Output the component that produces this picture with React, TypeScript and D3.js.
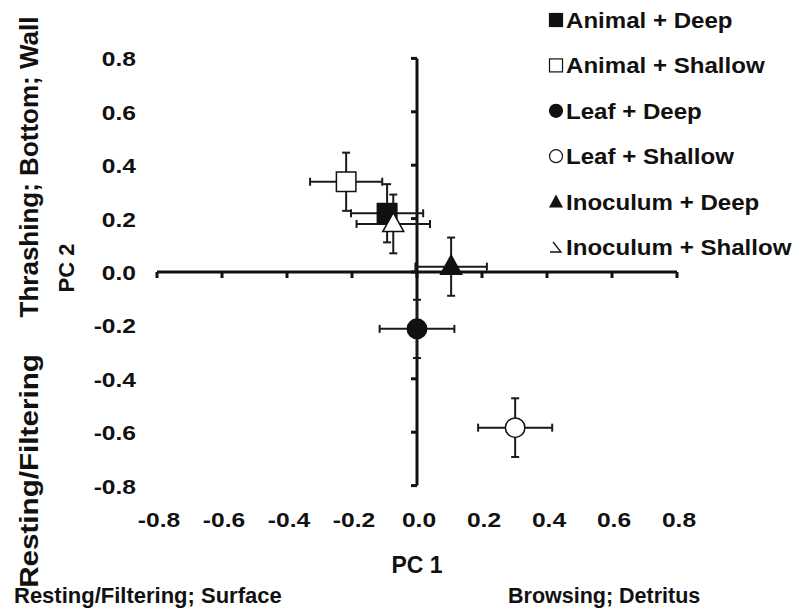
import React, { useEffect, useRef } from "react";
import * as d3 from "d3";

const groups = ["Animal + Deep", "Animal + Shallow", "Leaf + Deep", "Leaf + Shallow", "Inoculum + Deep", "Inoculum + Shallow"];
const shapes = ["square", "square", "circle", "circle", "triangle", "triangle"];
const filled = [true, false, true, false, true, false];
const pc1 = [-0.092, -0.218, 0.0, 0.302, 0.105, -0.073];
const pc2 = [0.22, 0.338, -0.213, -0.583, 0.02, 0.18];
const pc1Err = [0.111, 0.111, 0.115, 0.114, 0.11, 0.113];
const pc2Err = [0.109, 0.109, 0.109, 0.11, 0.109, 0.11];
const ticks = [-0.8, -0.6, -0.4, -0.2, 0.0, 0.2, 0.4, 0.6, 0.8];

const FONT = "'Liberation Sans', Arial, Helvetica, sans-serif";
const INK = "#111";

export default function App() {
  const ref = useRef<SVGSVGElement>(null);
  useEffect(() => {
    const svg = d3.select(ref.current);
    svg.selectAll("*").remove();
    const x = d3.scaleLinear().domain([-0.8, 0.8]).range([157, 677]);
    const y = d3.scaleLinear().domain([-0.8, 0.8]).range([485.6, 58.4]);
    const x0 = x(0), y0 = y(0);

    // axes
    const ax = svg.append("g").attr("stroke", INK).attr("stroke-width", 3).attr("fill", "none");
    ax.append("line").attr("x1", x(-0.8)).attr("x2", x(0.8)).attr("y1", y0).attr("y2", y0);
    ax.append("line").attr("x1", x0).attr("x2", x0).attr("y1", y(0.8)).attr("y2", y(-0.8));
    ticks.forEach((t) => {
      ax.append("line").attr("x1", x(t)).attr("x2", x(t)).attr("y1", y0).attr("y2", y0 + 6);
      ax.append("line").attr("x1", x0).attr("x2", x0 - 6).attr("y1", y(t)).attr("y2", y(t));
    });

    const fmt = d3.format(".1f");
    const lab = (s: string) => s.replace("−", "-");
    ticks.forEach((t) => {
      svg.append("text")
        .attr("transform", `translate(136,${y(t) + 8}) scale(1.2,1)`)
        .attr("text-anchor", "end")
        .attr("font-family", FONT).attr("font-weight", "bold").attr("font-size", 20.5)
        .attr("fill", INK).text(lab(fmt(t)));
      svg.append("text")
        .attr("transform", `translate(${x(t) + 2},${y(-0.8) + 41}) scale(1.2,1)`)
        .attr("text-anchor", "middle")
        .attr("font-family", FONT).attr("font-weight", "bold").attr("font-size", 20.5)
        .attr("fill", INK).text(lab(fmt(t)));
    });

    const txt = (tx: number, ty: number, s: string, size: number, anchor: string, rot = 0, sx = 1) =>
      svg.append("text")
        .attr("transform", `translate(${tx},${ty}) rotate(${rot}) scale(${sx},1)`)
        .attr("text-anchor", anchor)
        .attr("font-family", FONT).attr("font-weight", "bold").attr("font-size", size)
        .attr("fill", INK).text(s);

    txt(417, 573, "PC 1", 23, "middle");
    txt(74, 268, "PC 2", 22, "middle", -90);
    txt(38, 167, "Thrashing; Bottom; Wall", 26, "middle", -90);
    txt(38, 471, "Resting/Filtering", 26, "middle", -90, 1.14);
    txt(14, 603, "Resting/Filtering; Surface", 22, "start");
    txt(508, 603, "Browsing; Detritus", 21.5, "start", 0, 1.0);

    // error bars
    const eb = svg.append("g").attr("stroke", "#1a1a1a").attr("stroke-width", 2).attr("fill", "none");
    groups.forEach((_, i) => {
      const cx = x(pc1[i]), cy = y(pc2[i]);
      const xl = x(pc1[i] - pc1Err[i]), xr = x(pc1[i] + pc1Err[i]);
      const yt = y(pc2[i] + pc2Err[i]), yb = y(pc2[i] - pc2Err[i]);
      const c = 4;
      eb.append("line").attr("x1", xl).attr("x2", xr).attr("y1", cy).attr("y2", cy);
      eb.append("line").attr("x1", xl).attr("x2", xl).attr("y1", cy - c).attr("y2", cy + c);
      eb.append("line").attr("x1", xr).attr("x2", xr).attr("y1", cy - c).attr("y2", cy + c);
      eb.append("line").attr("x1", cx).attr("x2", cx).attr("y1", yt).attr("y2", yb);
      eb.append("line").attr("x1", cx - c).attr("x2", cx + c).attr("y1", yt).attr("y2", yt);
      eb.append("line").attr("x1", cx - c).attr("x2", cx + c).attr("y1", yb).attr("y2", yb);
    });

    const drawMarker = (g: any, shape: string, fill: boolean, cx: number, cy: number, s: number) => {
      const f = fill ? INK : "#fff";
      if (shape === "square") {
        g.append("rect").attr("x", cx - s / 2).attr("y", cy - s / 2).attr("width", s).attr("height", s)
          .attr("fill", f).attr("stroke", INK).attr("stroke-width", 1.5);
      } else if (shape === "circle") {
        g.append("circle").attr("cx", cx).attr("cy", cy).attr("r", s / 2)
          .attr("fill", f).attr("stroke", INK).attr("stroke-width", 1.5);
      } else {
        const w = s * 1.05, h = s * 0.95;
        g.append("path")
          .attr("d", `M${cx},${cy - h * 0.6} L${cx + w / 2},${cy + h * 0.4} L${cx - w / 2},${cy + h * 0.4} Z`)
          .attr("fill", f).attr("stroke", INK).attr("stroke-width", 1.5);
      }
    };

    const mk = svg.append("g");
    groups.forEach((_, i) => {
      drawMarker(mk, shapes[i], filled[i], x(pc1[i]), y(pc2[i]), shapes[i] === "triangle" ? 20 : 19.5);
    });

    // legend
    const lg = svg.append("g");
    groups.forEach((g, i) => {
      const ly = 20 + i * 45.4;
      const lx = 556;
      if (i === 5) {
        lg.append("path").attr("d", `M${lx - 3},${ly - 5} L${lx + 5},${ly + 5} L${lx - 6},${ly + 5}`)
          .attr("fill", "none").attr("stroke", INK).attr("stroke-width", 1.3);
      } else if (shapes[i] === "triangle") {
        lg.append("path").attr("d", `M${lx},${ly - 7} L${lx + 7},${ly + 6} L${lx - 7},${ly + 6} Z`).attr("fill", INK);
      } else if (shapes[i] === "square") {
        lg.append("rect").attr("x", lx - 6.5).attr("y", ly - 6.5).attr("width", 13).attr("height", 13)
          .attr("fill", filled[i] ? INK : "#fff").attr("stroke", INK).attr("stroke-width", 1.2);
      } else {
        lg.append("circle").attr("cx", lx).attr("cy", ly).attr("r", 6.5)
          .attr("fill", filled[i] ? INK : "#fff").attr("stroke", INK).attr("stroke-width", 1.2);
      }
      lg.append("text")
        .attr("transform", `translate(566,${ly + 8}) scale(1.07,1)`)
        .attr("font-family", FONT).attr("font-weight", "bold").attr("font-size", 22.5)
        .attr("fill", INK).text(g);
    });
  }, []);
  return (
    <svg ref={ref} width={800} height={615} style={{ position: "absolute", left: 0, top: 0, background: "#fff" }} />
  );
}
